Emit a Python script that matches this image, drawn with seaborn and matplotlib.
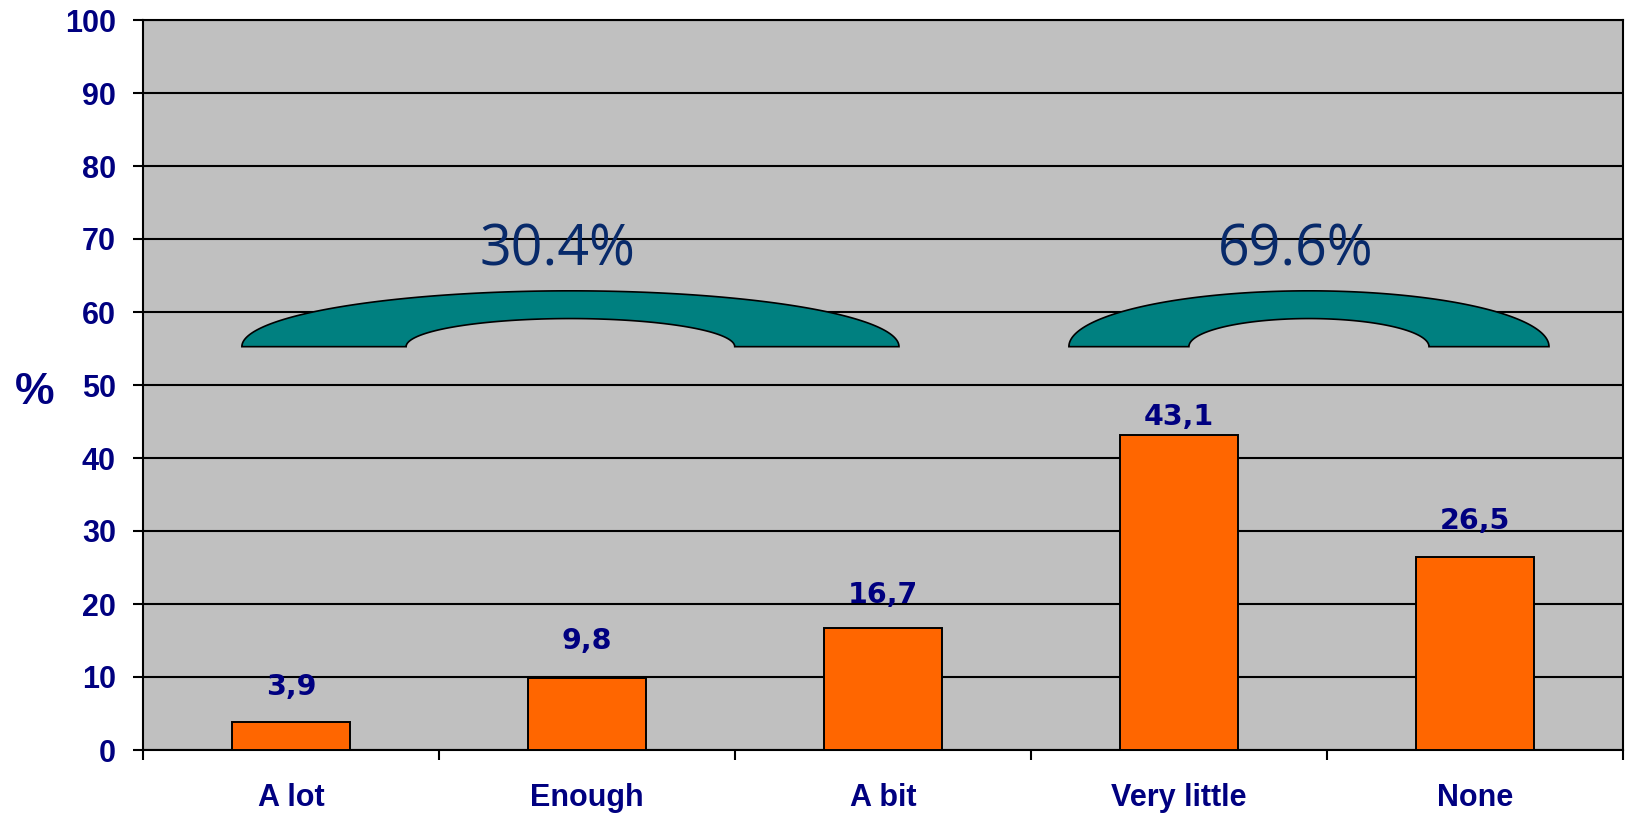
import numpy as np
import pandas as pd
import matplotlib
matplotlib.use("Agg")
import matplotlib.pyplot as plt
from matplotlib.patches import Polygon
import seaborn as sns

# ---- data -------------------------------------------------------------
categories = ["A lot", "Enough", "A bit", "Very little", "None"]
values = [3.9, 9.8, 16.7, 43.1, 26.5]
value_labels = ["3,9", "9,8", "16,7", "43,1", "26,5"]
group_members = [[0, 1, 2], [3, 4]]
y_ticks = list(range(0, 101, 10))

# ---- styling / layout ---------------------------------------------------
NAVY = "#000080"
PCT_BLUE = "#082A6A"
BAR_COLOR = "#FF6600"
BRACE_COLOR = "#008080"
PLOT_BG = "#C0C0C0"

# gap (px) between bar top and its value label
label_gaps_px = [27, 29, 25, 10, 28]
# horizontal extent of each group brace, in category units
brace_spans = [(-0.166, 2.054), (2.628, 4.25)]
brace_base, brace_outer_top, brace_inner_top = 55.25, 62.9, 59.1
pct_baseline = 66.4

sns.set_theme(style="ticks", rc={"axes.facecolor": PLOT_BG,
                                 "figure.facecolor": "white"})
plt.rcParams["font.family"] = ["Liberation Sans", "DejaVu Sans"]

W, H = 1629, 817
fig = plt.figure(figsize=(W / 100, H / 100), dpi=100)
ax = fig.add_axes([143 / W, 67 / H, 1480 / W, 730 / H])

df = pd.DataFrame({"category": categories, "value": values})
sns.barplot(data=df, x="category", y="value", order=categories,
            color=BAR_COLOR, saturation=1, width=0.4,
            edgecolor="black", linewidth=1.4, ax=ax, zorder=3)

ax.set_xlim(-0.5, len(categories) - 0.5)
ax.set_ylim(0, 100)
ax.set_yticks(y_ticks)
ax.yaxis.grid(True, color="black", linewidth=1.5)
ax.set_axisbelow(True)

for sp in ax.spines.values():
    sp.set_color("black")
    sp.set_linewidth(1.5)

tick_font = dict(family=["Liberation Sans", "DejaVu Sans"], weight="bold",
                 size=22)
ax.tick_params(axis="y", length=7.5, width=1.5, color="black", pad=12,
               labelcolor=NAVY)
ax.set_yticklabels([str(t) for t in y_ticks], **tick_font)
ax.set_xticks(np.arange(len(categories) + 1) - 0.5, minor=True)
ax.tick_params(axis="x", which="minor", length=7.5, width=1.5,
               color="black", direction="out")
ax.tick_params(axis="x", which="major", length=0, pad=24, labelcolor=NAVY)
ax.set_xticklabels(categories, **tick_font)
ax.set_xlabel("")

ax.set_ylabel("%", rotation=0, fontsize=32, fontweight="bold", color=NAVY,
              ha="center", va="center")
ax.yaxis.set_label_coords(-0.073, 0.49)

# value labels above bars
for i, (v, lab) in enumerate(zip(values, value_labels)):
    ax.annotate(lab, xy=(i, v), xytext=(0, label_gaps_px[i] * 0.72),
                textcoords="offset points", ha="center", va="baseline",
                family="DejaVu Sans", fontweight="bold", fontsize=20.5,
                color=NAVY, zorder=5)

# group braces with their combined share
t_out = np.linspace(np.pi, 0, 200)
t_in = np.linspace(0, np.pi, 200)
for members, (x0, x1) in zip(group_members, brace_spans):
    cx = (x0 + x1) / 2
    a_out = (x1 - x0) / 2
    a_in = a_out / 2
    outer = np.column_stack([cx + a_out * np.cos(t_out),
                             brace_base + (brace_outer_top - brace_base) * np.sin(t_out)])
    inner = np.column_stack([cx + a_in * np.cos(t_in),
                             brace_base + (brace_inner_top - brace_base) * np.sin(t_in)])
    poly = Polygon(np.vstack([outer, inner]), closed=True,
                   facecolor=BRACE_COLOR, edgecolor="black", linewidth=1.2,
                   zorder=4)
    ax.add_patch(poly)
    total = sum(values[m] for m in members)
    ax.text(cx - 0.045, pct_baseline, f"{total:.1f}%", ha="center",
            va="baseline", family=["Open Sans", "DejaVu Sans"], fontsize=40,
            color=PCT_BLUE, zorder=5)

fig.savefig("out.png", dpi=100)
